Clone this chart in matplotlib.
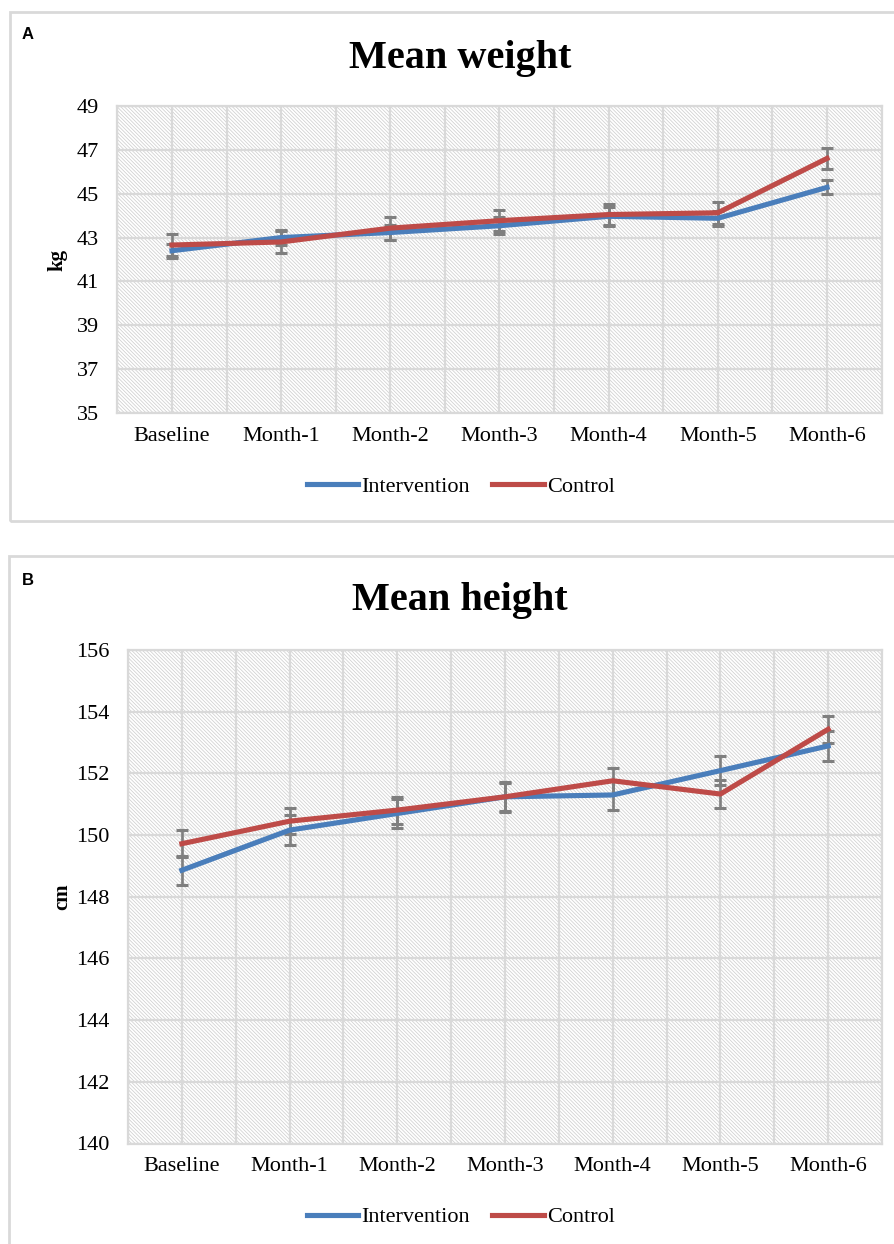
import matplotlib
matplotlib.use("Agg")
import matplotlib.pyplot as plt
from matplotlib.patches import Rectangle
from matplotlib.lines import Line2D
from matplotlib.collections import LineCollection
from matplotlib.transforms import IdentityTransform
import numpy as np

# ---------------- data ----------------
categories = ["Baseline", "Month-1", "Month-2", "Month-3", "Month-4", "Month-5", "Month-6"]
series_names = ["Intervention", "Control"]

weight_intervention = [42.40, 43.00, 43.23, 43.54, 43.97, 43.88, 45.29]
weight_intervention_err = [0.32, 0.33, 0.35, 0.39, 0.43, 0.35, 0.32]
weight_control = [42.66, 42.80, 43.43, 43.77, 44.05, 44.13, 46.61]
weight_control_err = [0.52, 0.52, 0.52, 0.49, 0.47, 0.50, 0.49]

height_intervention = [148.86, 150.16, 150.70, 151.24, 151.30, 152.09, 152.89]
height_intervention_err = [0.47, 0.48, 0.47, 0.48, 0.49, 0.48, 0.48]
height_control = [149.72, 150.45, 150.81, 151.24, 151.76, 151.33, 153.43]
height_control_err = [0.44, 0.42, 0.44, 0.46, 0.42, 0.46, 0.44]

weight_ticks = [35, 37, 39, 41, 43, 45, 47, 49]
height_ticks = [140, 142, 144, 146, 148, 150, 152, 154, 156]

# ---------------- style ----------------
W, H = 895, 1244
SERIF = "Liberation Serif"
SANS = "Liberation Sans"
BLUE = "#4a7ebb"
RED = "#be4b48"
ERR = "#7f7f7f"
GRID = "#d9d9d9"
HATCH = "#cfcfcf"

fig = plt.figure(figsize=(W / 100, H / 100), dpi=100)
fig.patch.set_facecolor("white")


def fx(px):
    return px / W


def fy(py):
    return 1 - py / H


# panel frames
for (x0, y0, y1) in [(10, 12, 521), (9, 556, 1260)]:
    fig.add_artist(Rectangle((fx(x0), fy(y1)), fx(905) - fx(x0), fy(y0) - fy(y1),
                             transform=fig.transFigure, fill=False,
                             edgecolor=GRID, lw=2.0, zorder=0))


def add_hatch(ax, rect_px, spacing=3.6):
    # diagonal "\" texture drawn in pixel space, clipped to the plot area
    x0, y0, x1, y1 = rect_px
    h = y1 - y0
    segs = []
    c = x0 - h
    while c < x1 + h:
        segs.append([(c, y1), (c + h, y0)])
        c += spacing
    lc = LineCollection(segs, colors=HATCH, linewidths=0.55,
                        transform=IdentityTransform(), zorder=0.5)
    ax.add_collection(lc, autolim=False)
    lc.set_clip_path(ax.patch)


def draw_panel(rect_px, ylim, yticks, interv, interv_err, ctrl, ctrl_err,
               title, title_y, letter, letter_y, ylabel, ylabel_xy, legend_y):
    left, top, right, bottom = rect_px
    ax = fig.add_axes([fx(left), fy(bottom), (right - left) / W, (bottom - top) / H])
    x = np.arange(len(categories))
    ax.set_xlim(-0.5, len(categories) - 0.5)
    ax.set_ylim(*ylim)
    ax.set_facecolor("white")
    add_hatch(ax, (left, H - bottom, right, H - top))
    ax.set_xticks(x)
    ax.set_xticks(np.arange(-0.5, len(categories), 0.5), minor=True)
    ax.set_xticklabels(categories, fontfamily=SERIF, fontsize=16)
    ax.set_yticks(yticks)
    ax.set_yticklabels([str(t) for t in yticks], fontfamily=SERIF, fontsize=16)
    ax.tick_params(axis="both", which="both", length=0)
    ax.tick_params(axis="x", pad=10)
    ax.tick_params(axis="y", pad=13.5)
    ax.grid(True, which="both", axis="x", color=GRID, lw=1.6, zorder=1)
    ax.grid(True, which="major", axis="y", color=GRID, lw=1.6, zorder=1)
    ax.set_axisbelow(True)
    for s in ax.spines.values():
        s.set_color(GRID)
        s.set_linewidth(1.6)

    for vals, err, col in [(interv, interv_err, BLUE), (ctrl, ctrl_err, RED)]:
        ax.errorbar(x, vals, yerr=err, fmt="none", ecolor=ERR, elinewidth=1.9,
                    capsize=4.5, capthick=2.2, zorder=3)
        ax.plot(x, vals, color=col, lw=3.7, zorder=4, solid_joinstyle="round")

    fig.text(fx(460), fy(title_y), title, ha="center", va="baseline",
             fontfamily=SERIF, fontweight="bold", fontsize=29)
    fig.text(fx(22), fy(letter_y), letter, ha="left", va="baseline",
             fontfamily=SANS, fontweight="bold", fontsize=12)
    fig.text(fx(ylabel_xy[0]), fy(ylabel_xy[1]), ylabel, ha="center", va="center",
             rotation=90, fontfamily=SERIF, fontweight="bold", fontsize=15)

    handles = [Line2D([], [], color=BLUE, lw=3.7), Line2D([], [], color=RED, lw=3.7)]
    ax.legend(handles, series_names, loc="center", bbox_to_anchor=(fx(461), fy(legend_y)),
              bbox_transform=fig.transFigure, ncol=2, frameon=False,
              prop={"family": SERIF, "size": 16}, handlelength=2.3,
              handletextpad=0.15, columnspacing=1.0)
    return ax


draw_panel((117.4, 106, 881.6, 413),
           (35, 49), weight_ticks,
           weight_intervention, weight_intervention_err,
           weight_control, weight_control_err,
           "Mean weight", 68, "A", 39, "kg", (57, 260), 487)

draw_panel((128, 650, 882, 1143.5),
           (140, 156), height_ticks,
           height_intervention, height_intervention_err,
           height_control, height_control_err,
           "Mean height", 610, "B", 585, "cm", (62, 897), 1217)

fig.savefig("out.png", dpi=100, facecolor="white")
